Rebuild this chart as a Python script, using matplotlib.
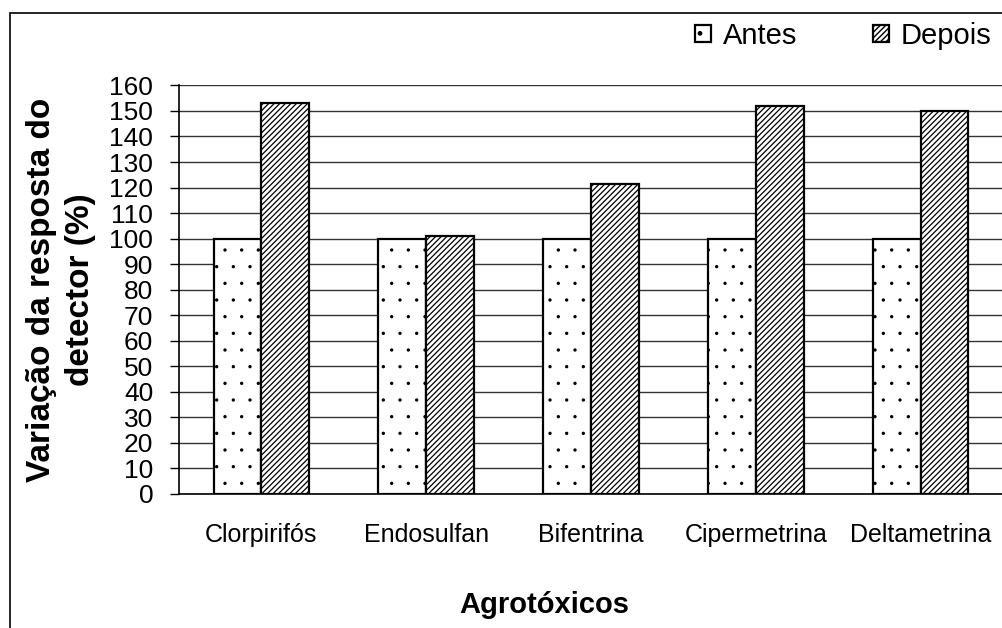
import numpy as np
import matplotlib
matplotlib.use('Agg')
import matplotlib.pyplot as plt
from matplotlib.patches import Rectangle

plt.rcParams['font.family'] = ['Liberation Sans', 'DejaVu Sans']

agrotoxicos = ['Clorpirifós', 'Endosulfan', 'Bifentrina', 'Cipermetrina', 'Deltametrina']
antes = [100, 100, 100, 100, 100]
depois = [153, 101, 121.5, 152, 150]

fig = plt.figure(figsize=(10.03, 6.28), dpi=100)
ax = fig.add_axes([0.1785, 0.2134, 0.8215, 0.6506])

# outer chart frame
fig.patches.append(Rectangle((10 / 1003, -0.1), 1.2, 1 - 13 / 628 + 0.1,
                             transform=fig.transFigure, fill=False,
                             edgecolor='black', linewidth=1.2, zorder=0))

x = np.arange(len(agrotoxicos))
w = 0.29
with plt.rc_context({'hatch.linewidth': 0.0, 'hatch.color': '#666666'}):
    b1 = ax.bar(x - w / 2, antes, w, color='white', edgecolor='black', linewidth=1.6,
                hatch='.', label='Antes', zorder=3)
with plt.rc_context({'hatch.linewidth': 0.9, 'hatch.color': '#3a3a3a'}):
    b2 = ax.bar(x + w / 2, depois, w, color='white', edgecolor='black', linewidth=1.6,
                hatch='//////', label='Depois', zorder=3)
for p in list(b1) + list(b2):
    p.set_edgecolor('black')

ax.set_xlim(-0.5, 4.5)
ax.set_ylim(0, 160)
ax.set_yticks(np.arange(0, 161, 10))
ax.yaxis.grid(True, color='#333333', linewidth=1.0, zorder=0)
ax.set_axisbelow(True)

ax.set_xticks(x)
ax.set_xticklabels(agrotoxicos, fontsize=18)
ax.tick_params(axis='x', length=0, pad=21)
ax.tick_params(axis='y', labelsize=19, length=6.5, width=1, pad=12, direction='out')

for side in ['top', 'right']:
    ax.spines[side].set_visible(False)
ax.spines['left'].set_linewidth(1.2)
ax.spines['bottom'].set_linewidth(1.2)

fig.text(61 / 1003, 0.5385, 'Variação da resposta do\ndetector (%)', rotation=90,
         ha='center', va='center', fontsize=24, fontweight='bold', linespacing=1.35)
fig.text(544 / 1003, 1 - 605 / 628, 'Agrotóxicos', ha='center', va='center',
         fontsize=21, fontweight='bold')

fig.legend(loc='center', bbox_to_anchor=(843 / 1003, 1 - 36 / 628), ncol=2,
           frameon=False, fontsize=21, handlelength=0.55, handleheight=0.55,
           handletextpad=0.4, columnspacing=2.6, borderaxespad=0)

fig.savefig('out.png', dpi=100)
